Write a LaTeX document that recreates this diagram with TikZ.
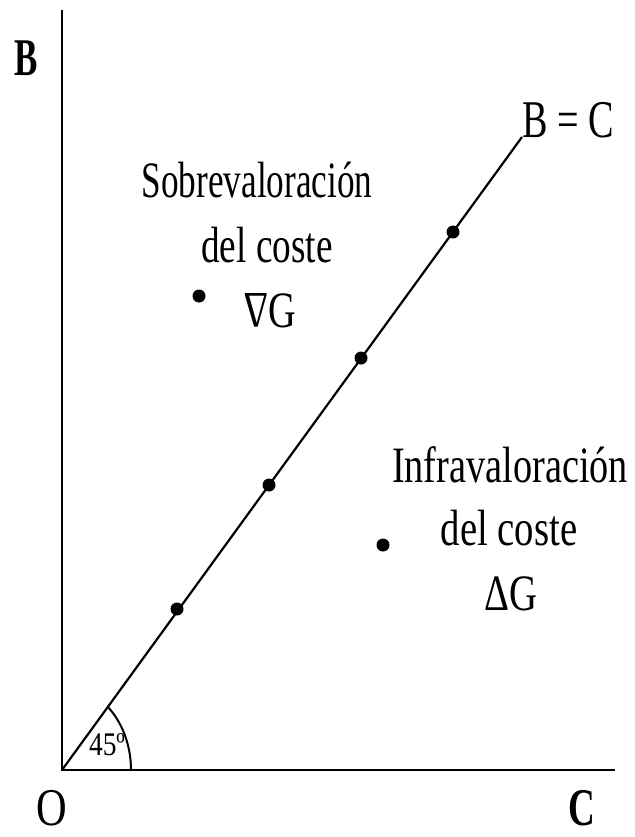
\documentclass[tikz,border=0pt]{standalone}
\usepackage{fontspec}
\usepackage{graphicx}
\setmainfont{Liberation Serif}
\newcommand\sqz[2]{\scalebox{#1}[1]{#2}}
\newcommand\nablaG{\rotatebox[origin=c]{180}{Δ}G}
\begin{document}
\begin{tikzpicture}[x=1pt,y=-1pt,
  axis/.style={line width=2.6pt},
  diag/.style={line width=2.2pt},
  dot/.style={circle,fill=black,inner sep=0pt,minimum size=13pt},
  lbl/.style={inner sep=0pt,anchor=base,font=\fontsize{51}{51}\selectfont},
  big/.style={inner sep=0pt,anchor=base,font=\fontsize{53}{53}\selectfont}]
\useasboundingbox (0,0) rectangle (634,837);
\coordinate (O) at (62,770);
\coordinate (Ytop) at (62,10);
\coordinate (Xend) at (615,770);
\coordinate (Dend) at (522,137);
\draw[axis] (Ytop) -- (O) -- (Xend);
\draw[diag] (O) -- (Dend);
\draw[line width=2pt] (131,770) arc[start angle=0,end angle=48.2,x radius=69,y radius=-84.5];
\node[inner sep=0pt,anchor=base,font=\fontsize{33}{33}\selectfont] (ang) at (107,755) {\sqz{0.83}{45º}};
\node[dot] (d1) at (177,609) {};
\node[dot] (d2) at (269,485) {};
\node[dot] (d3) at (361,358) {};
\node[dot] (d4) at (453,232) {};
\node[dot] (s) at (199,296) {};
\node[dot] (i) at (383,545) {};
\node[big] (B) at (26,76) {\sqz{0.66}{\bfseries B}};
\node[big] (C) at (582,825) {\sqz{0.7}{\bfseries C}};
\node[big] (Olab) at (52,825) {\sqz{0.8}{O}};
\node[big] (BC) at (568,138) {\sqz{0.72}{B = C}};
\node[lbl] (s1) at (257,197) {\sqz{0.69}{Sobrevaloración}};
\node[lbl] (s2) at (267,262) {\sqz{0.73}{del coste}};
\node[lbl] (s3) at (270,327) {\sqz{0.75}{\nablaG}};
\node[lbl] (i1) at (510,482) {\sqz{0.75}{Infravaloración}};
\node[lbl] (i2) at (509,545) {\sqz{0.76}{del coste}};
\node[lbl] (i3) at (511,610) {\sqz{0.76}{ΔG}};
\end{tikzpicture}
\end{document}
